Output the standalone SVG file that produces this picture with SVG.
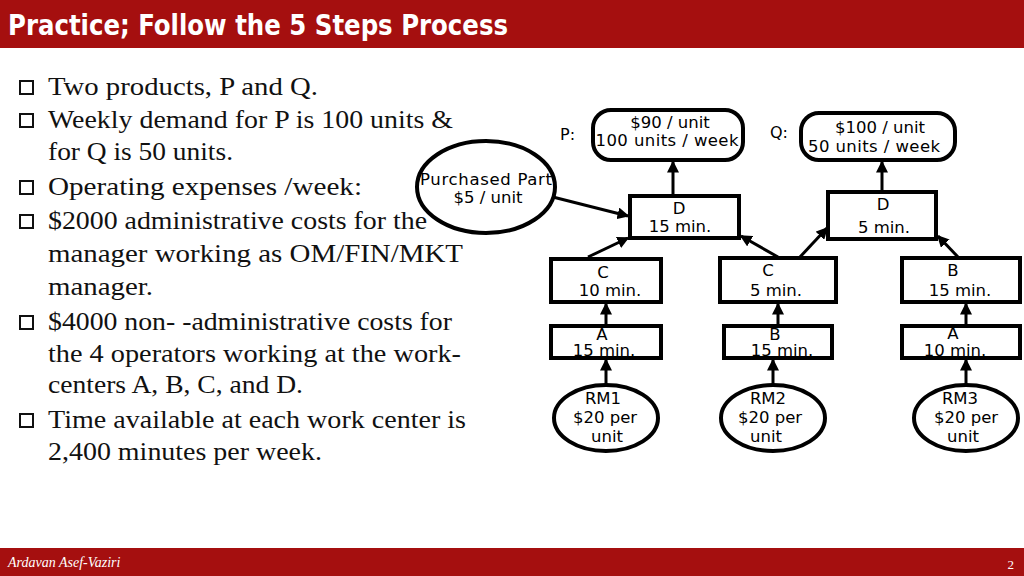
<svg xmlns="http://www.w3.org/2000/svg" width="1024" height="576" viewBox="0 0 1024 576">
<style>
.t{font-family:"Liberation Serif",serif;font-size:25px;fill:#111}
.b{fill:none;stroke:#111;stroke-width:2}
.n{fill:#fff;stroke:#000;stroke-width:4}
.l{font-family:"DejaVu Sans",sans-serif;font-size:16.5px;fill:#000;text-anchor:middle}
.c{stroke:#000;stroke-width:3;fill:none;marker-end:url(#a)}
</style>
<defs><marker id="a" markerWidth="4" markerHeight="4" refX="3.5" refY="2" orient="auto" markerUnits="strokeWidth"><path d="M0,0L4,2L0,4z" fill="#000"/></marker></defs>
<rect width="1024" height="576" fill="#fff"/>
<rect width="1024" height="48" fill="#A50F0F"/>
<text x="8" y="35" font-family="DejaVu Sans Condensed,sans-serif" font-weight="bold" font-size="29" fill="#fff" textLength="500" lengthAdjust="spacingAndGlyphs">Practice; Follow the 5 Steps Process</text>
<rect y="548" width="1024" height="28" fill="#A50F0F"/>
<text x="8" y="567" font-family="Liberation Serif,serif" font-style="italic" font-size="14" fill="#fff">Ardavan Asef-Vaziri</text>
<text x="1014" y="569" font-family="Liberation Serif,serif" font-size="13" fill="#fff" text-anchor="end">2</text>
<g>
<rect class="b" x="20" y="81" width="13" height="13"/><rect class="b" x="20" y="114" width="13" height="13"/><rect class="b" x="20" y="181" width="13" height="13"/><rect class="b" x="20" y="215" width="13" height="13"/><rect class="b" x="20" y="316" width="13" height="13"/><rect class="b" x="20" y="414" width="13" height="13"/>
<text class="t" x="48" y="95" textLength="270" lengthAdjust="spacingAndGlyphs">Two products, P and Q.</text>
<text class="t" x="48" y="128" textLength="405" lengthAdjust="spacingAndGlyphs">Weekly demand for P is 100 units &amp;</text>
<text class="t" x="48" y="160" textLength="185" lengthAdjust="spacingAndGlyphs">for Q is 50 units.</text>
<text class="t" x="48" y="195" textLength="314" lengthAdjust="spacingAndGlyphs">Operating expenses /week:</text>
<text class="t" x="48" y="229" textLength="379" lengthAdjust="spacingAndGlyphs">$2000 administrative costs for the</text>
<text class="t" x="48" y="262" textLength="415" lengthAdjust="spacingAndGlyphs">manager working as OM/FIN/MKT</text>
<text class="t" x="48" y="295" textLength="105" lengthAdjust="spacingAndGlyphs">manager.</text>
<text class="t" x="48" y="330" textLength="404" lengthAdjust="spacingAndGlyphs">$4000 non- -administrative costs for</text>
<text class="t" x="48" y="362" textLength="413" lengthAdjust="spacingAndGlyphs">the 4 operators working at the work-</text>
<text class="t" x="48" y="393" textLength="255" lengthAdjust="spacingAndGlyphs">centers A, B, C, and D.</text>
<text class="t" x="48" y="428" textLength="418" lengthAdjust="spacingAndGlyphs">Time available at each work center is</text>
<text class="t" x="48" y="460" textLength="274" lengthAdjust="spacingAndGlyphs">2,400 minutes per week.</text>
</g>
<g id="connectors">
<line class="c" x1="606" y1="384" x2="606" y2="360"/>
<line class="c" x1="773" y1="384" x2="773" y2="360"/>
<line class="c" x1="966" y1="384" x2="966" y2="360"/>
<line class="c" x1="606" y1="326" x2="606" y2="304"/>
<line class="c" x1="778" y1="326" x2="778" y2="304"/>
<line class="c" x1="966" y1="326" x2="966" y2="304"/>
<line class="c" x1="588" y1="257" x2="628" y2="238"/>
<line class="c" x1="778" y1="257" x2="741" y2="236"/>
<line class="c" x1="800" y1="257" x2="827" y2="228"/>
<line class="c" x1="958" y1="257" x2="938" y2="236"/>
<line class="c" x1="673" y1="195" x2="673" y2="162"/>
<line class="c" x1="882" y1="193" x2="882" y2="162"/>
<line class="c" x1="537" y1="193" x2="628" y2="216"/>
</g>
<text x="560" y="140" font-family="DejaVu Sans,sans-serif" font-size="16">P:</text>
<text x="770" y="138" font-family="DejaVu Sans,sans-serif" font-size="16">Q:</text>
<g id="P"><rect class="n" x="593" y="110" width="150" height="50" rx="18"/><text class="l" x="670" y="128">$90 / unit</text><text class="l" x="667" y="146" textLength="143">100 units / week</text></g>
<g id="Q"><rect class="n" x="801" y="113" width="154" height="47" rx="18"/><text class="l" x="880" y="133">$100 / unit</text><text class="l" x="874" y="152" textLength="132">50 units / week</text></g>
<g id="PP"><ellipse class="n" cx="486" cy="187" rx="69" ry="46"/><text class="l" x="486" y="185" textLength="132">Purchased Part</text><text class="l" x="488" y="203">$5 / unit</text></g>
<g id="D1"><rect class="n" x="630" y="196" width="109" height="42"/><text class="l" x="679" y="214">D</text><text class="l" x="680" y="232">15 min.</text></g>
<g id="D2"><rect class="n" x="828" y="192" width="108" height="47"/><text class="l" x="883" y="210">D</text><text class="l" x="884" y="233">5 min.</text></g>
<g id="C1"><rect class="n" x="551" y="259" width="110" height="43"/><text class="l" x="603" y="278">C</text><text class="l" x="610" y="296">10 min.</text></g>
<g id="C2"><rect class="n" x="720" y="258" width="116" height="44"/><text class="l" x="768" y="276">C</text><text class="l" x="776" y="296">5 min.</text></g>
<g id="B3"><rect class="n" x="902" y="258" width="118" height="44"/><text class="l" x="953" y="276">B</text><text class="l" x="960" y="296">15 min.</text></g>
<g id="A1"><rect class="n" x="551" y="326" width="110" height="32"/><text class="l" x="602" y="340">A</text><text class="l" x="604" y="356">15 min.</text></g>
<g id="B2"><rect class="n" x="724" y="326" width="108" height="32"/><text class="l" x="775" y="340">B</text><text class="l" x="782" y="356">15 min.</text></g>
<g id="A3"><rect class="n" x="902" y="326" width="118" height="32"/><text class="l" x="953" y="339">A</text><text class="l" x="955" y="356">10 min.</text></g>
<g id="RM1"><ellipse class="n" cx="606" cy="418" rx="52" ry="33"/><text class="l" x="603" y="404">RM1</text><text class="l" x="605" y="423">$20 per</text><text class="l" x="607" y="442">unit</text></g>
<g id="RM2"><ellipse class="n" cx="773" cy="418" rx="52" ry="33"/><text class="l" x="768" y="404">RM2</text><text class="l" x="770" y="423">$20 per</text><text class="l" x="766" y="442">unit</text></g>
<g id="RM3"><ellipse class="n" cx="966" cy="418" rx="52" ry="33"/><text class="l" x="960" y="404">RM3</text><text class="l" x="966" y="423">$20 per</text><text class="l" x="963" y="442">unit</text></g>
</svg>
